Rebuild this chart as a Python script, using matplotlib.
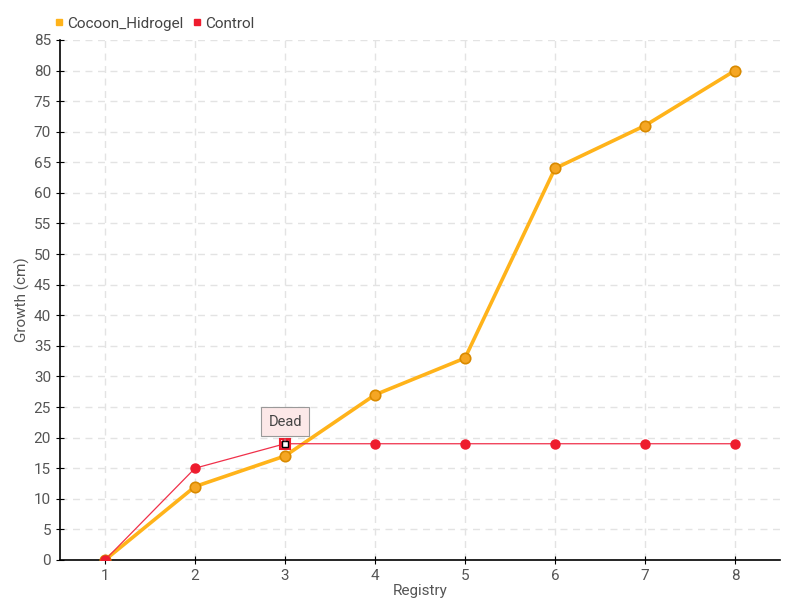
import matplotlib
matplotlib.use("Agg")
import matplotlib.pyplot as plt

registry = [1, 2, 3, 4, 5, 6, 7, 8]
cocoon_hidrogel = [0, 12, 17, 27, 33, 64, 71, 80]
control = [0, 15, 19, 19, 19, 19, 19, 19]
dead_index = 2
dead_label = "Dead"

plt.rcParams['font.family'] = ['Roboto', 'DejaVu Sans']

fig = plt.figure(figsize=(8, 6), dpi=100)
ax = fig.add_axes([0.075, 0.0667, 0.9, 0.8667])

orange = "#FFB31A"
red = "#EE1C2E"

ax.plot(registry, cocoon_hidrogel, color=orange, lw=2.6, marker="o", ms=7.5,
        mfc="#F5A623", mec="#D98A00", mew=1.2, zorder=3, label="Cocoon_Hidrogel")
ax.plot(registry, control, color="#F0304A", lw=0.9, marker="o", ms=6.5,
        mfc=red, mec=red, zorder=4, label="Control")
# dead marker
ax.plot(registry[dead_index], control[dead_index], marker="s", ms=6.5, mfc="none",
        mec=red, mew=1.5, zorder=5)
ax.plot(registry[dead_index], control[dead_index], marker="s", ms=4, mfc="white",
        mec="black", mew=1.0, zorder=6)
ax.annotate(dead_label, xy=(registry[dead_index], control[dead_index]),
            xytext=(0, 16), textcoords="offset points", ha="center", va="center",
            fontsize=10.5, color="#444444",
            bbox=dict(boxstyle="square,pad=0.5", fc="#FCE8E8", ec="#999999", lw=0.8),
            arrowprops=dict(arrowstyle="-", color="#999999", lw=0.8), zorder=7)

ax.set_xlim(0.5, 8.5)
ax.set_ylim(0, 85)
ax.set_xticks(registry)
ax.set_yticks(range(0, 86, 5))
ax.grid(True, color="#E3E3E3", ls=(0, (5, 4)), lw=1)
ax.set_axisbelow(True)
for s in ["top", "right"]:
    ax.spines[s].set_visible(False)
for s in ["left", "bottom"]:
    ax.spines[s].set_color("black")
    ax.spines[s].set_linewidth(1.2)
ax.tick_params(axis="both", colors="#555555", labelsize=11, direction="inout", length=6)
ax.tick_params(axis="both", color="black")
ax.set_xlabel("Registry", color="#555555", fontsize=11, labelpad=1)
ax.set_ylabel("Growth (cm)", color="#555555", fontsize=11)
ax.yaxis.set_label_coords(-0.042, 0.5)

leg = fig.legend(handles=[
    plt.Line2D([], [], ls="none", marker="s", ms=5, mfc=orange, mec=orange, label="Cocoon_Hidrogel"),
    plt.Line2D([], [], ls="none", marker="s", ms=5, mfc=red, mec=red, label="Control")],
    loc="upper left", bbox_to_anchor=(0.052, 0.995), ncol=2, frameon=False,
    handlelength=0.5, handletextpad=0.3, columnspacing=0.6, fontsize=11,
    labelcolor="#444444")

fig.savefig("out.png", dpi=100)
